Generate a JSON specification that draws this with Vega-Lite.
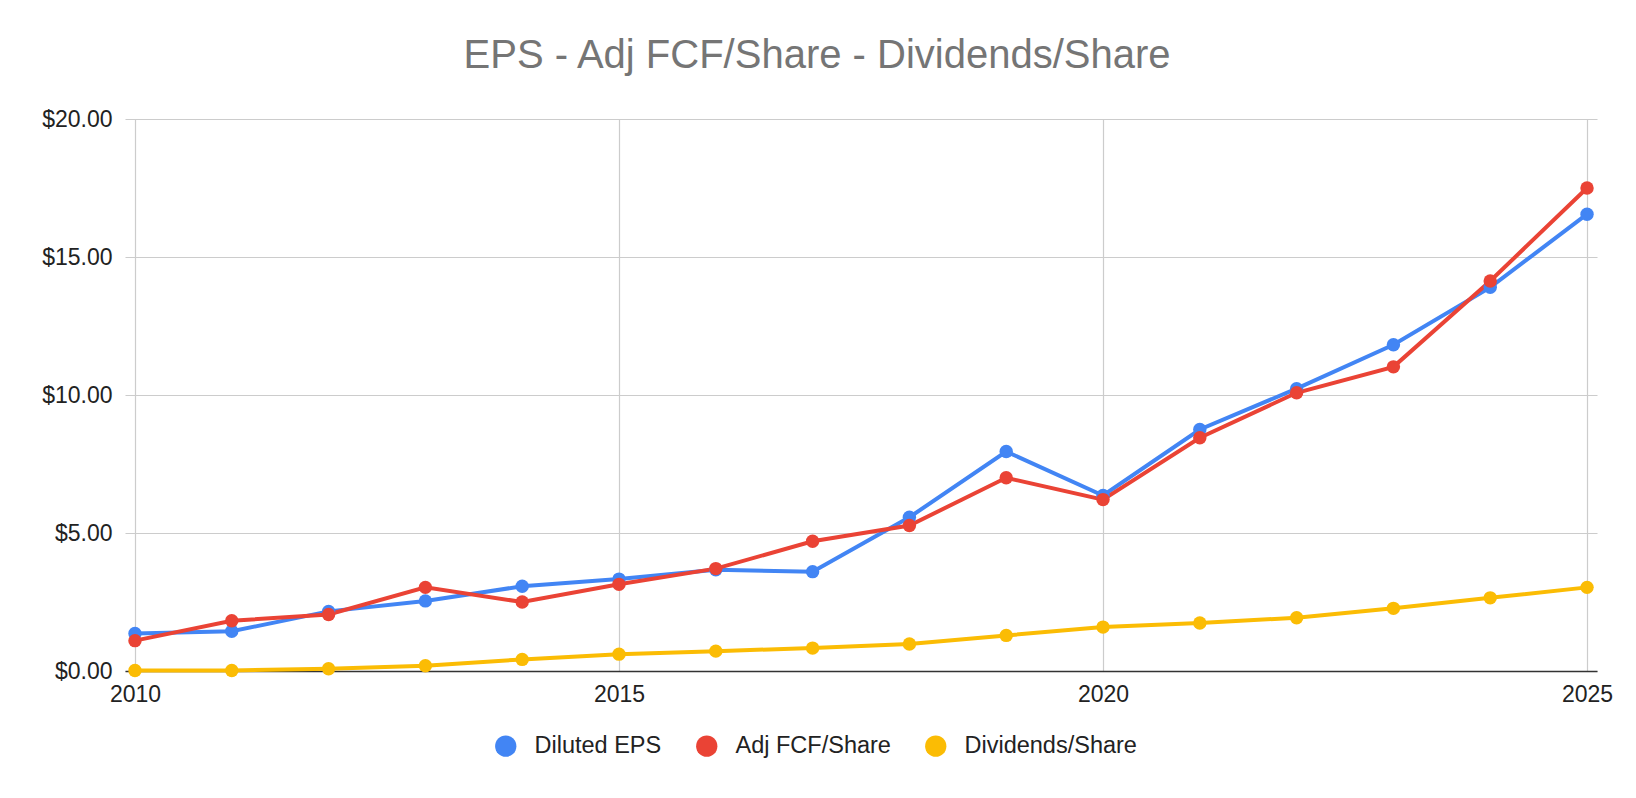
{
  "$schema": "https://vega.github.io/schema/vega-lite/v6.json",
  "autosize": {"type": "none"},
  "padding": {"left": 125, "top": 119, "right": 39, "bottom": 127},
  "width": 1472,
  "height": 552,
  "background": "white",
  "title": {
    "text": "EPS - Adj FCF/Share - Dividends/Share",
    "font": "Liberation Sans",
    "fontSize": 40,
    "fontWeight": "normal",
    "color": "#757575",
    "anchor": "middle",
    "frame": "group",
    "baseline": "alphabetic",
    "offset": 0,
    "dx": -44
  },
  "config": {
    "view": {"stroke": null},
    "font": "Liberation Sans",
    "axis": {"labelFont": "Liberation Sans", "labelFontSize": 23, "labelColor": "#222222", "gridColor": "#cccccc", "gridWidth": 1.2, "title": null}
  },
  "data": {
    "values": [
      {"year": 2010, "series": "Diluted EPS", "value": 1.36},
      {"year": 2011, "series": "Diluted EPS", "value": 1.44},
      {"year": 2012, "series": "Diluted EPS", "value": 2.16},
      {"year": 2013, "series": "Diluted EPS", "value": 2.54},
      {"year": 2014, "series": "Diluted EPS", "value": 3.07},
      {"year": 2015, "series": "Diluted EPS", "value": 3.33},
      {"year": 2016, "series": "Diluted EPS", "value": 3.67},
      {"year": 2017, "series": "Diluted EPS", "value": 3.6},
      {"year": 2018, "series": "Diluted EPS", "value": 5.57},
      {"year": 2019, "series": "Diluted EPS", "value": 7.95},
      {"year": 2020, "series": "Diluted EPS", "value": 6.36},
      {"year": 2021, "series": "Diluted EPS", "value": 8.75},
      {"year": 2022, "series": "Diluted EPS", "value": 10.23},
      {"year": 2023, "series": "Diluted EPS", "value": 11.82},
      {"year": 2024, "series": "Diluted EPS", "value": 13.9},
      {"year": 2025, "series": "Diluted EPS", "value": 16.55},
      {"year": 2010, "series": "Adj FCF/Share", "value": 1.1},
      {"year": 2011, "series": "Adj FCF/Share", "value": 1.82},
      {"year": 2012, "series": "Adj FCF/Share", "value": 2.05},
      {"year": 2013, "series": "Adj FCF/Share", "value": 3.03},
      {"year": 2014, "series": "Adj FCF/Share", "value": 2.5},
      {"year": 2015, "series": "Adj FCF/Share", "value": 3.14},
      {"year": 2016, "series": "Adj FCF/Share", "value": 3.71},
      {"year": 2017, "series": "Adj FCF/Share", "value": 4.7},
      {"year": 2018, "series": "Adj FCF/Share", "value": 5.27},
      {"year": 2019, "series": "Adj FCF/Share", "value": 7.0},
      {"year": 2020, "series": "Adj FCF/Share", "value": 6.21},
      {"year": 2021, "series": "Adj FCF/Share", "value": 8.45},
      {"year": 2022, "series": "Adj FCF/Share", "value": 10.08},
      {"year": 2023, "series": "Adj FCF/Share", "value": 11.02},
      {"year": 2024, "series": "Adj FCF/Share", "value": 14.13},
      {"year": 2025, "series": "Adj FCF/Share", "value": 17.5},
      {"year": 2010, "series": "Dividends/Share", "value": 0.02},
      {"year": 2011, "series": "Dividends/Share", "value": 0.02},
      {"year": 2012, "series": "Dividends/Share", "value": 0.08},
      {"year": 2013, "series": "Dividends/Share", "value": 0.19},
      {"year": 2014, "series": "Dividends/Share", "value": 0.42},
      {"year": 2015, "series": "Dividends/Share", "value": 0.61},
      {"year": 2016, "series": "Dividends/Share", "value": 0.72},
      {"year": 2017, "series": "Dividends/Share", "value": 0.83},
      {"year": 2018, "series": "Dividends/Share", "value": 0.98},
      {"year": 2019, "series": "Dividends/Share", "value": 1.29},
      {"year": 2020, "series": "Dividends/Share", "value": 1.59},
      {"year": 2021, "series": "Dividends/Share", "value": 1.74},
      {"year": 2022, "series": "Dividends/Share", "value": 1.93},
      {"year": 2023, "series": "Dividends/Share", "value": 2.27},
      {"year": 2024, "series": "Dividends/Share", "value": 2.65},
      {"year": 2025, "series": "Dividends/Share", "value": 3.03}
    ]
  },
  "mark": {"type": "line", "strokeWidth": 4, "point": {"filled": true, "size": 180, "opacity": 1}},
  "encoding": {
    "x": {
      "field": "year",
      "type": "quantitative",
      "scale": {"domain": [2009.897, 2025.103], "nice": false, "zero": false},
      "axis": {
        "values": [2010, 2015, 2020, 2025],
        "format": "d",
        "ticks": false,
        "tickSize": 0,
        "labelPadding": 12,
        "domainColor": "#333333",
        "domainWidth": 1.5,
        "grid": true
      }
    },
    "y": {
      "field": "value",
      "type": "quantitative",
      "scale": {"domain": [0, 20], "nice": false},
      "axis": {
        "values": [0, 5, 10, 15, 20],
        "format": "$.2f",
        "domain": false,
        "ticks": false,
        "tickSize": 0,
        "labelPadding": 13,
        "grid": true
      }
    },
    "color": {
      "field": "series",
      "type": "nominal",
      "sort": ["Diluted EPS", "Adj FCF/Share", "Dividends/Share"],
      "scale": {
        "domain": ["Diluted EPS", "Adj FCF/Share", "Dividends/Share"],
        "range": ["#4285F4", "#EA4335", "#FBBC04"]
      },
      "legend": {
        "title": null,
        "orient": "none",
        "direction": "horizontal",
        "legendX": 369,
        "legendY": 615,
        "padding": 0,
        "symbolType": "circle",
        "symbolSize": 452,
        "symbolStrokeWidth": 0,
        "labelFont": "Liberation Sans",
        "labelFontSize": 23.5,
        "labelColor": "#222222",
        "labelOffset": 17,
        "labelLimit": 400,
        "columnPadding": 33,
        "encode": {
          "symbols": {
            "update": {
              "fill": {"scale": "color", "field": "value"},
              "strokeWidth": {"value": 0},
              "opacity": {"value": 1}
            }
          }
        }
      }
    }
  }
}
